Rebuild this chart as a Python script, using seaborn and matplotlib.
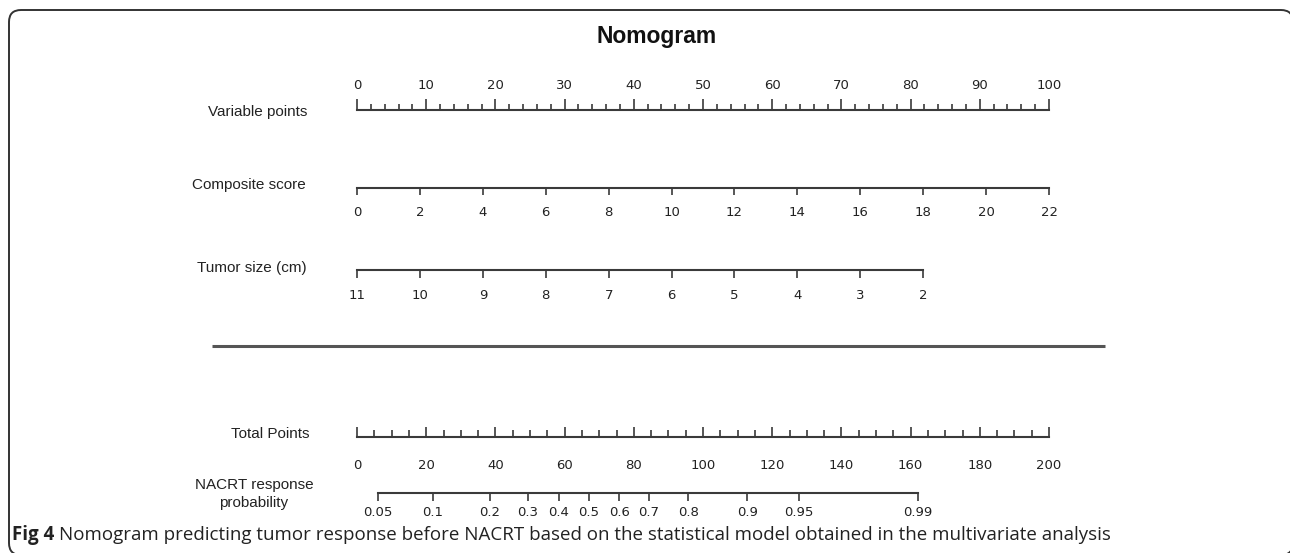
import matplotlib
matplotlib.use("Agg")
import matplotlib.pyplot as plt
import seaborn as sns
from matplotlib import font_manager
from matplotlib.patches import FancyBboxPatch
from matplotlib.ticker import FixedLocator, MultipleLocator, NullFormatter

# ---------------- data ----------------
title = "Nomogram"
row_labels = ["Variable points", "Composite score", "Tumor size (cm)",
              "Total Points", "NACRT response\nprobability"]
points_major = [0, 10, 20, 30, 40, 50, 60, 70, 80, 90, 100]
points_minor_step = 2
composite_ticks = [0, 2, 4, 6, 8, 10, 12, 14, 16, 18, 20, 22]
tumor_ticks = [11, 10, 9, 8, 7, 6, 5, 4, 3, 2]
tumor_range = (11, 0)          # tumor size at 0 and 100 variable points
total_major = [0, 20, 40, 60, 80, 100, 120, 140, 160, 180, 200]
total_minor_step = 5
prob_labels = ["0.05", "0.1", "0.2", "0.3", "0.4", "0.5", "0.6", "0.7",
               "0.8", "0.9", "0.95", "0.99"]
prob_total_points = [6.1, 21.9, 38.4, 49.4, 58.3, 67.0, 75.8, 84.3,
                     95.8, 112.8, 127.8, 162.2]
caption_bold = "Fig 4"
caption_text = ("Nomogram predicting tumor response before NACRT based on the "
                "statistical model obtained in the multivariate analysis")

# ---------------- style ----------------
sns.set_theme(style="white")
installed = {f.name for f in font_manager.fontManager.ttflist}
narrow = "Liberation Sans Narrow" if "Liberation Sans Narrow" in installed else "Liberation Sans"
tickfont = "DejaVu Sans"
capfont = "Open Sans" if "Open Sans" in installed else "DejaVu Sans"
plt.rcParams["font.family"] = [narrow, "DejaVu Sans"]

W, H = 1290, 553
fig = plt.figure(figsize=(W / 100, H / 100), dpi=100)

# background frame in pixel space
bg = fig.add_axes([0, 0, 1, 1], zorder=-5)
bg.set_xlim(0, W)
bg.set_ylim(H, 0)
bg.axis("off")
bg.add_patch(FancyBboxPatch((9, 10), 1284, 545,
                            boxstyle="round,pad=0,rounding_size=12",
                            fc="white", ec="#333333", lw=1.4))
bg.plot([212, 1105], [346, 346], color="#555555", lw=2.2, solid_capstyle="butt")

INK = "#222222"
LINE = "#3a3a3a"
X0, X1 = 357, 1049


def scale_axes(y, xlim, top=False):
    ax = fig.add_axes([X0 / W, 1 - y / H, (X1 - X0) / W, 0.0001])
    ax.set_xlim(*xlim)
    ax.patch.set_visible(False)
    ax.yaxis.set_visible(False)
    for s in ("left", "right"):
        ax.spines[s].set_visible(False)
    keep = "top" if top else "bottom"
    drop = "bottom" if top else "top"
    ax.spines[drop].set_visible(False)
    ax.spines[keep].set_visible(True)
    ax.spines[keep].set_color(LINE)
    ax.spines[keep].set_linewidth(1.5)
    if top:
        ax.xaxis.tick_top()
        ax.tick_params(axis="x", which="both", top=True, bottom=False,
                       labeltop=True, labelbottom=False)
    else:
        ax.xaxis.tick_bottom()
        ax.tick_params(axis="x", which="both", top=False, bottom=True,
                       labeltop=False, labelbottom=True)
    ax.tick_params(axis="x", which="both", colors=LINE, labelcolor=INK,
                   width=1.2, labelsize=9.5)
    return ax, keep


# Variable points (ticks up, labels above)
ax, sp = scale_axes(110, (0, 100), top=True)
ax.xaxis.set_major_locator(FixedLocator(points_major))
ax.xaxis.set_minor_locator(MultipleLocator(points_minor_step))
ax.xaxis.set_minor_formatter(NullFormatter())
ax.set_xticklabels([str(v) for v in points_major], fontfamily=tickfont)
ax.tick_params(axis="x", which="major", direction="out", length=8, pad=5)
ax.tick_params(axis="x", which="minor", direction="out", length=4)

# Composite score (ticks down, labels below)
ax, sp = scale_axes(188, (0, 22))
ax.xaxis.set_major_locator(FixedLocator(composite_ticks))
ax.set_xticklabels([str(v) for v in composite_ticks], fontfamily=tickfont)
ax.tick_params(axis="x", which="major", direction="out", length=5, pad=8)

# Tumor size (ticks down, reversed)
ax, sp = scale_axes(270, tumor_range)
ax.spines[sp].set_bounds(tumor_ticks[0], tumor_ticks[-1])
ax.xaxis.set_major_locator(FixedLocator(tumor_ticks))
ax.set_xticklabels([str(v) for v in tumor_ticks], fontfamily=tickfont)
ax.tick_params(axis="x", which="major", direction="out", length=6, pad=8)

# Total points (ticks up, labels below)
ax, sp = scale_axes(437, (0, 200))
ax.xaxis.set_major_locator(FixedLocator(total_major))
ax.xaxis.set_minor_locator(MultipleLocator(total_minor_step))
ax.xaxis.set_minor_formatter(NullFormatter())
ax.set_xticklabels([str(v) for v in total_major], fontfamily=tickfont)
ax.tick_params(axis="x", which="major", direction="in", length=7, pad=16)
ax.tick_params(axis="x", which="minor", direction="in", length=5)

# Probability (ticks down)
ax, sp = scale_axes(493, (0, 200))
ax.spines[sp].set_bounds(prob_total_points[0], prob_total_points[-1])
ax.xaxis.set_major_locator(FixedLocator(prob_total_points))
ax.set_xticklabels(prob_labels, fontfamily=tickfont)
ax.tick_params(axis="x", which="major", direction="out", length=6, pad=3)

# row labels
label_pos = [(258, 112), (249, 185), (252, 268), (270, 434), (254, 494)]
for text, (x, y) in zip(row_labels, label_pos):
    bg.text(x, y, text, ha="center", va="center", fontsize=11, color=INK,
            family=[narrow, "DejaVu Sans"], linespacing=1.35)

bg.text(657, 37, title, ha="center", va="center", fontsize=16.5,
        fontweight="bold", color="#111111", family=[narrow, "DejaVu Sans"])

# caption
t1 = bg.text(12, 535, caption_bold, ha="left", va="center", fontsize=13.5,
             fontweight="bold", color="#222222", family=[capfont, "DejaVu Sans"])
fig.canvas.draw()
bb = t1.get_window_extent()
x_next = bb.x1 + 5
bg.text(x_next, 535, caption_text, ha="left", va="center", fontsize=13.5,
        color="#222222", family=[capfont, "DejaVu Sans"])

fig.savefig("out.png", dpi=100)
